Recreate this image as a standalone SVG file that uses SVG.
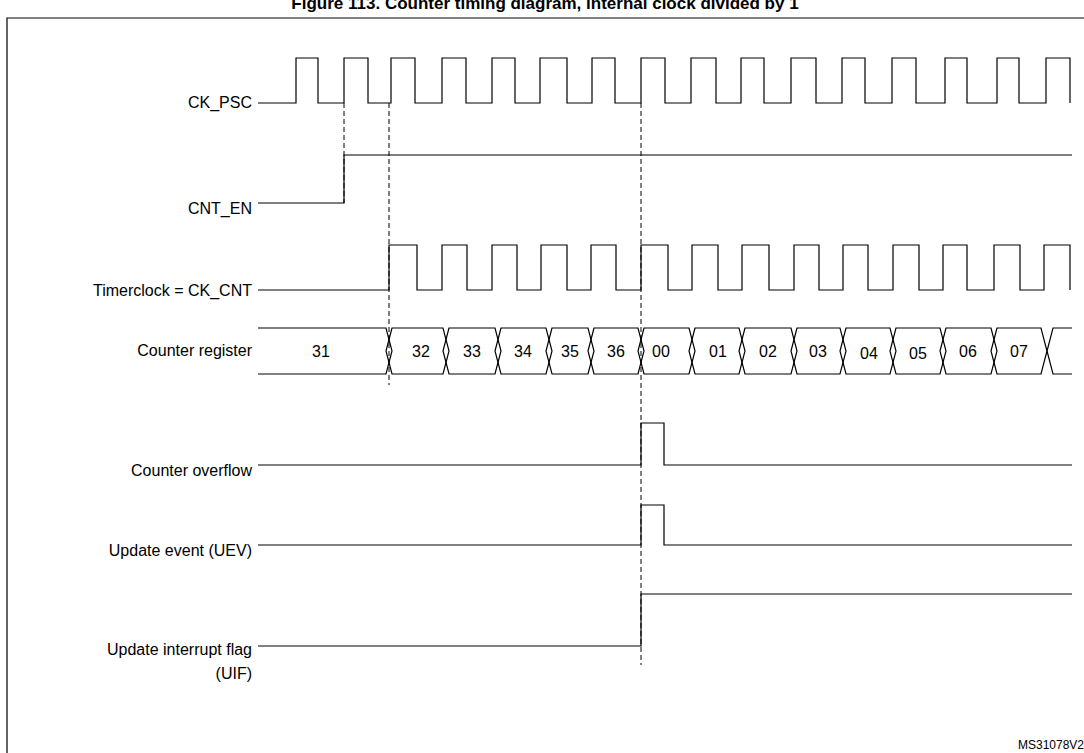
<svg xmlns="http://www.w3.org/2000/svg" width="1084" height="753" viewBox="0 0 1084 753">
<style>
.l{font-family:"Liberation Sans",Arial,sans-serif;font-size:16px;fill:#000;text-anchor:end}
.v{font-family:"Liberation Sans",Arial,sans-serif;font-size:16px;fill:#000;text-anchor:middle}
.w{fill:none;stroke:#000;stroke-width:1.2}
.d{fill:none;stroke:#000;stroke-width:1;stroke-dasharray:5,3}
</style>
<rect width="1084" height="753" fill="#fff"/>
<text x="545" y="9" font-family="Liberation Sans,Arial,sans-serif" font-weight="bold" font-size="17" text-anchor="middle">Figure 113. Counter timing diagram, internal clock divided by 1</text>
<path d="M7,753 V18 H1084" class="w"/>
<g id="labels">
<text class="l" x="252" y="108">CK_PSC</text>
<text class="l" x="252" y="214">CNT_EN</text>
<text class="l" x="252" y="296">Timerclock = CK_CNT</text>
<text class="l" x="252" y="356">Counter register</text>
<text class="l" x="252" y="476">Counter overflow</text>
<text class="l" x="252" y="556">Update event (UEV)</text>
<text class="l" x="252" y="655">Update interrupt flag</text>
<text class="l" x="252" y="679">(UIF)</text>
</g>
<g id="connectors">
<path class="d" d="M344,103 V203"/>
<path class="d" d="M389,103 V385"/>
<path class="d" d="M641,103 V665"/>
</g>
<g id="ck_psc"><path class="w" d="M258,103 H296 V58 H318 V103 H344 V58 H368 V103 H391 V58 H415 V103 H442 V58 H466 V103 H492 V58 H515 V103 H540 V58 H567 V103 H592 V58 H615 V103 H641 V58 H665 V103 H691 V58 H716 V103 H741 V58 H764 V103 H791 V58 H816 V103 H842 V58 H865 V103 H892 V58 H916 V103 H945 V58 H967 V103 H997 V58 H1019 V103 H1046 V58 H1070 V103"/></g>
<g id="cnt_en"><path class="w" d="M258,203 H344 V155 H1072"/></g>
<g id="timerclock"><path class="w" d="M258,290 H389 V245 H417 V290 H442 V245 H467 V290 H492 V245 H517 V290 H541 V245 H567 V290 H591 V245 H616 V290 H641 V245 H668 V290 H692 V245 H718 V290 H742 V245 H769 V290 H794 V245 H819 V290 H843 V245 H868 V290 H893 V245 H919 V290 H943 V245 H967 V290 H994 V245 H1020 V290 H1044 V245 H1070 V290"/></g>
<g id="counter">
<path class="w" d="M258,328 H386 L392,351 L386,374 H258"/>
<path class="w" d="M392,328 L386,351 L392,374 H443 L449,351 L443,328 Z"/>
<path class="w" d="M449,328 L443,351 L449,374 H495 L501,351 L495,328 Z"/>
<path class="w" d="M501,328 L495,351 L501,374 H546 L552,351 L546,328 Z"/>
<path class="w" d="M552,328 L546,351 L552,374 H588 L594,351 L588,328 Z"/>
<path class="w" d="M594,328 L588,351 L594,374 H638 L644,351 L638,328 Z"/>
<path class="w" d="M644,328 L638,351 L644,374 H689 L695,351 L689,328 Z"/>
<path class="w" d="M695,328 L689,351 L695,374 H739 L745,351 L739,328 Z"/>
<path class="w" d="M745,328 L739,351 L745,374 H791 L797,351 L791,328 Z"/>
<path class="w" d="M797,328 L791,351 L797,374 H840 L846,351 L840,328 Z"/>
<path class="w" d="M846,328 L840,351 L846,374 H890 L896,351 L890,328 Z"/>
<path class="w" d="M896,328 L890,351 L896,374 H940 L946,351 L940,328 Z"/>
<path class="w" d="M946,328 L940,351 L946,374 H991 L997,351 L991,328 Z"/>
<path class="w" d="M997,328 L991,351 L997,374 H1041 L1047,351 L1041,328 Z"/>
<path class="w" d="M1072,328 H1053 L1047,351 L1053,374 H1072"/>
<text class="v" x="321" y="357">31</text>
<text class="v" x="421" y="357">32</text>
<text class="v" x="472" y="357">33</text>
<text class="v" x="523" y="357">34</text>
<text class="v" x="570" y="357">35</text>
<text class="v" x="616" y="357">36</text>
<text class="v" x="661" y="357">00</text>
<text class="v" x="718" y="357">01</text>
<text class="v" x="768" y="357">02</text>
<text class="v" x="818" y="357">03</text>
<text class="v" x="869" y="359">04</text>
<text class="v" x="918" y="359">05</text>
<text class="v" x="968" y="357">06</text>
<text class="v" x="1019" y="357">07</text>
</g>
<g id="overflow"><path class="w" d="M258,465 H641 V423 H664 V465 H1072"/></g>
<g id="uev"><path class="w" d="M258,545 H641 V505 H664 V545 H1072"/></g>
<g id="uif"><path class="w" d="M258,646 H641 V594 H1072"/></g>
<text x="1084" y="749" font-family="Liberation Sans,Arial,sans-serif" font-size="12" text-anchor="end">MS31078V2</text>
</svg>
